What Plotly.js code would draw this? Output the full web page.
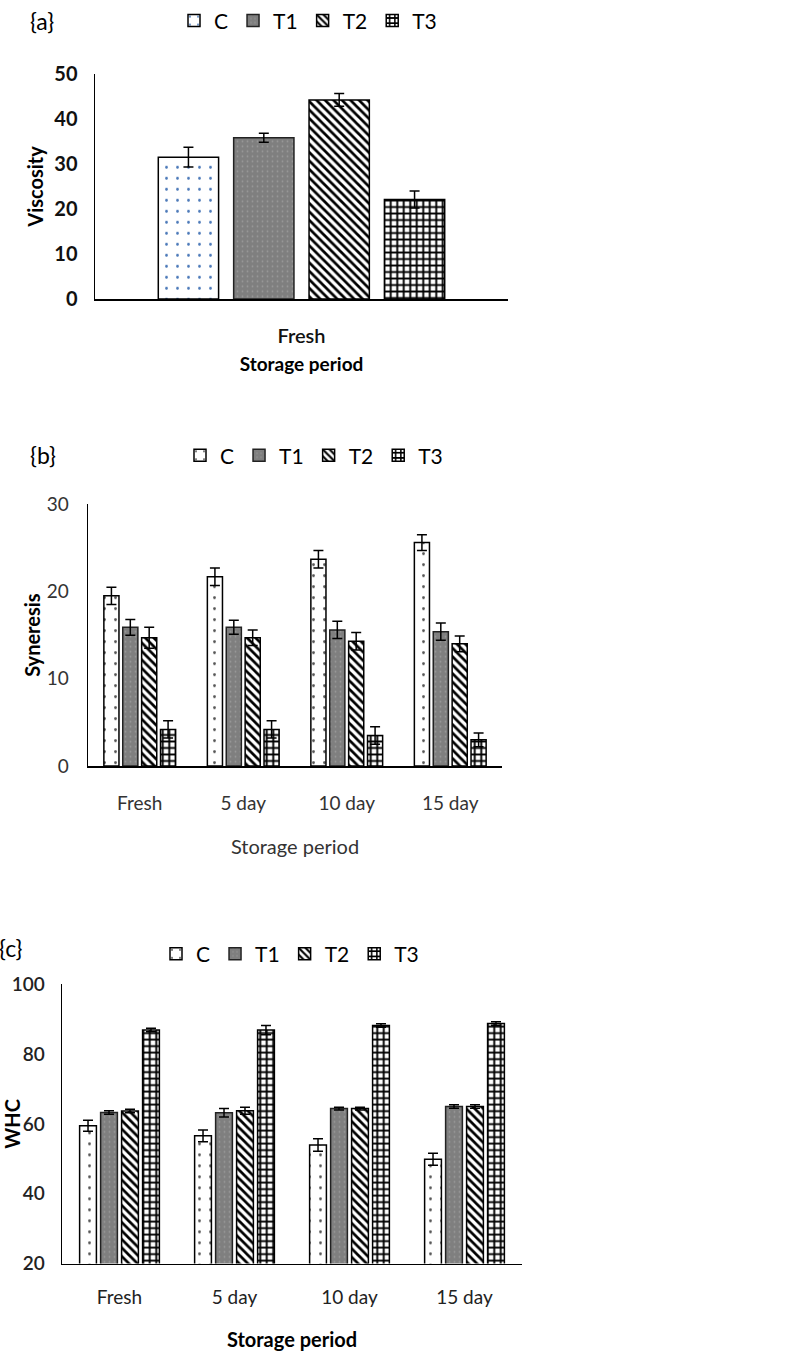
<!DOCTYPE html>
<html><head><meta charset="utf-8">
<script src="https://cdn.plot.ly/plotly-3.0.1.min.js"></script>
<style>body{margin:0;background:#fff}#g{width:800px;height:1353px}</style>
</head><body><div id="g"></div>
<script>
// ---- data ----
const seriesNames = ["C", "T1", "T2", "T3"];
// (a) Viscosity
const catsA = ["Fresh"];
const viscC = [31.5], viscT1 = [35.8], viscT2 = [44.2], viscT3 = [22.1];
const viscErrC = [2.2], viscErrT1 = [1.0], viscErrT2 = [1.4], viscErrT3 = [1.9];
// (b) Syneresis
const catsB = ["Fresh", "5 day", "10 day", "15 day"];
const synC = [19.5, 21.7, 23.7, 25.6];
const synT1 = [15.9, 15.9, 15.6, 15.4];
const synT2 = [14.7, 14.7, 14.3, 14.0];
const synT3 = [4.2, 4.2, 3.5, 3.0];
const synErrC = [1.0, 1.0, 1.0, 0.9];
const synErrT1 = [0.9, 0.8, 1.0, 1.0];
const synErrT2 = [1.2, 0.9, 1.0, 0.9];
const synErrT3 = [1.0, 1.0, 1.0, 0.8];
// (c) WHC
const catsC = ["Fresh", "5 day", "10 day", "15 day"];
const whcC = [59.5, 56.6, 54.0, 49.9];
const whcT1 = [63.3, 63.2, 64.4, 65.0];
const whcT2 = [63.7, 63.8, 64.4, 65.0];
const whcT3 = [86.9, 86.9, 88.2, 88.8];
const whcErrC = [1.6, 1.7, 1.8, 1.7];
const whcErrT1 = [0.5, 1.2, 0.4, 0.5];
const whcErrT2 = [0.5, 1.0, 0.4, 0.5];
const whcErrT3 = [0.5, 1.3, 0.5, 0.5];

const FONT = "Lato, 'Open Sans', sans-serif";
const H = 1353, W = 800;
const py = v => 1 - v / H, px = v => v / W;

function styles(dotColor) {
  return [
    {color: "#ffffff", line: {color: "#000", width: 1.5},
     pattern: {shape: ".", fgcolor: dotColor, bgcolor: "#ffffff", size: 11, solidity: 0.05}},
    {color: "#808080", line: {color: "#222", width: 1.5},
     pattern: {shape: ".", fgcolor: "#9a9a9a", bgcolor: "#7f7f7f", size: 5, solidity: 0.1}},
    {color: "#ffffff", line: {color: "#000", width: 1.5},
     pattern: {shape: "\\", fgcolor: "#000", bgcolor: "#ffffff", size: 6, solidity: 0.45}},
    {color: "#ffffff", line: {color: "#000", width: 1.5},
     pattern: {shape: "+", fgcolor: "#000", bgcolor: "#ffffff", size: 6.5, solidity: 0.5}}
  ];
}

function makeTraces(cats, vals, errs, xa, ya, legendId, dotColor) {
  const st = styles(dotColor);
  return vals.map((v, i) => ({
    type: "bar", name: seriesNames[i], x: cats, y: v,
    xaxis: xa, yaxis: ya, legend: legendId,
    marker: st[i],
    error_y: {type: "data", array: errs[i], visible: true, color: "#000", thickness: 1.5, width: 5},
    hoverinfo: "skip"
  }));
}

const traces = [].concat(
  makeTraces(catsA, [viscC, viscT1, viscT2, viscT3], [viscErrC, viscErrT1, viscErrT2, viscErrT3], "x", "y", "legend", "#4a78b8"),
  makeTraces(catsB, [synC, synT1, synT2, synT3], [synErrC, synErrT1, synErrT2, synErrT3], "x2", "y2", "legend2", "#555"),
  makeTraces(catsC, [whcC, whcT1, whcT2, whcT3], [whcErrC, whcErrT1, whcErrT2, whcErrT3], "x3", "y3", "legend3", "#555")
);

const axLine = {showline: true, linecolor: "#000", linewidth: 1.5, showgrid: false, zeroline: false, ticks: "", automargin: false};
const legBase = {orientation: "h", xanchor: "left", yanchor: "middle", bgcolor: "rgba(0,0,0,0)",
  itemwidth: 30, traceorder: "normal",
  font: {family: FONT, size: 21, color: "#000"}};

const layout = {
  width: W, height: H, margin: {l: 0, r: 0, t: 0, b: 0},
  paper_bgcolor: "#fff", plot_bgcolor: "rgba(0,0,0,0)",
  barmode: "group", bargap: 0.27, bargroupgap: 0.2, showlegend: true,
  font: {family: FONT, color: "#000"},
  xaxis: Object.assign({}, axLine, {domain: [px(95), px(508)], anchor: "y",
    tickfont: {size: 20, color: "#111", weight: 600}, ticklabelstandoff: 18,
    title: {text: "<b>Storage period</b>", font: {size: 19}, standoff: 12}}),
  yaxis: Object.assign({}, axLine, {domain: [py(296), py(70)], anchor: "x", range: [0, 50], dtick: 10,
    tickfont: {size: 20, color: "#111", weight: "bold"}, ticklabelstandoff: 12,
    title: {text: "<b>Viscosity</b>", font: {size: 20, weight: 900}, standoff: 5}}),
  xaxis2: Object.assign({}, axLine, {domain: [px(88), px(502)], anchor: "y2",
    tickfont: {size: 19, color: "#333"}, ticklabelstandoff: 20,
    title: {text: "Storage period", font: {size: 20, color: "#333"}, standoff: 26}}),
  yaxis2: Object.assign({}, axLine, {domain: [py(764.3), py(501.7)], anchor: "x2", range: [0, 30], dtick: 10,
    tickfont: {size: 19, color: "#333"}, ticklabelstandoff: 14,
    title: {text: "<b>Syneresis</b>", font: {size: 20, weight: 900}, standoff: 0}}),
  xaxis3: Object.assign({}, axLine, {domain: [px(62), px(522)], anchor: "y3",
    tickfont: {size: 19, color: "#222"}, ticklabelstandoff: 16,
    title: {text: "<b>Storage period</b>", font: {size: 20}, standoff: 26}}),
  yaxis3: Object.assign({}, axLine, {domain: [py(1263.3), py(983.3)], anchor: "x3", range: [20, 100], dtick: 20,
    tickfont: {size: 19, color: "#222", weight: 600}, ticklabelstandoff: 12,
    title: {text: "<b>WHC</b>", font: {size: 20, weight: 900}, standoff: 16}}),
  legend: Object.assign({}, legBase, {x: px(174), y: py(17)}),
  legend2: Object.assign({}, legBase, {x: px(180), y: py(453)}),
  legend3: Object.assign({}, legBase, {x: px(156), y: py(953)}),
  annotations: [
    {text: "{a}", x: px(42), y: py(17), xref: "paper", yref: "paper", xanchor: "center", yanchor: "middle", showarrow: false, font: {size: 23, family: FONT}},
    {text: "{b}", x: px(43), y: py(452), xref: "paper", yref: "paper", xanchor: "center", yanchor: "middle", showarrow: false, font: {size: 23, family: FONT}},
    {text: "{c}", x: px(11), y: py(947), xref: "paper", yref: "paper", xanchor: "center", yanchor: "middle", showarrow: false, font: {size: 23, family: FONT}}
  ]
};

Plotly.newPlot("g", traces, layout, {staticPlot: true, displayModeBar: false});
</script></body></html>
